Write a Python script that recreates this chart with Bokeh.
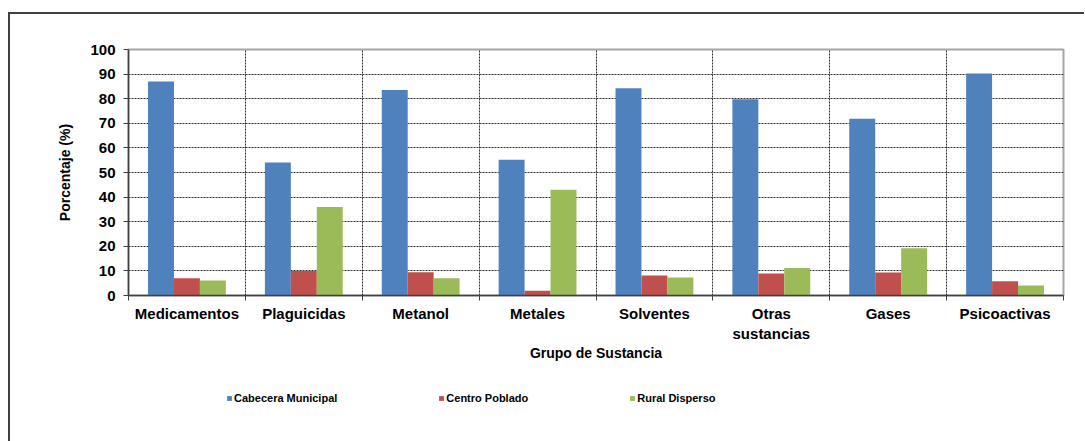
import numpy as np
from bokeh.plotting import figure
from bokeh.layouts import column
from bokeh.models import FixedTicker, Legend, LegendItem, ColumnDataSource
from bokeh.embed import file_html
from bokeh.resources import INLINE

categories = ["Medicamentos", "Plaguicidas", "Metanol", "Metales", "Solventes",
              "Otras sustancias", "Gases", "Psicoactivas"]
tick_labels = ["Medicamentos", "Plaguicidas", "Metanol", "Metales", "Solventes",
               "Otras\nsustancias", "Gases", "Psicoactivas"]
series_names = ["Cabecera Municipal", "Centro Poblado", "Rural Disperso"]
cabecera = [87.0, 54.1, 83.5, 55.2, 84.2, 79.8, 71.8, 90.2]
centro = [7.0, 10.0, 9.5, 1.9, 8.1, 8.9, 9.3, 5.8]
rural = [6.1, 36.0, 7.0, 43.0, 7.3, 11.2, 19.2, 4.1]
y_ticks = [0, 10, 20, 30, 40, 50, 60, 70, 80, 90, 100]

colors = ["#4F81BD", "#C0504D", "#9BBB59"]
offsets = [-0.222, 0.0, 0.222]
bar_w = 0.222
FONT = "Liberation Sans"

p = figure(frame_width=935, frame_height=246, output_backend="svg", toolbar_location=None,
           x_range=(0, len(categories)), y_range=(0, 100),
           min_border_left=118, min_border_top=35, min_border_right=21,
           min_border_bottom=65)
p.outline_line_color = "#A6A6A6"
p.outline_line_width = 2
p.background_fill_color = "white"
p.border_fill_color = "white"

centers = np.arange(len(categories)) + 0.5
sources = []
for vals, col, off in zip([cabecera, centro, rural], colors, offsets):
    src = ColumnDataSource(dict(x=centers + off, top=vals))
    sources.append(src)
    p.vbar(x="x", top="top", width=bar_w, source=src, fill_color=col, line_color=None)

# x axis
xt = FixedTicker(ticks=list(centers), minor_ticks=list(range(len(categories) + 1)))
p.xaxis.ticker = xt
p.xaxis.major_label_overrides = {float(c): lab for c, lab in zip(centers, tick_labels)}
p.xaxis.major_tick_line_color = None
p.xaxis.minor_tick_line_color = "#404040"
p.xaxis.minor_tick_out = 5
p.xaxis.minor_tick_in = 0
p.xaxis.axis_line_color = "#404040"
p.xaxis.axis_line_width = 1.5
p.xaxis.major_label_text_font = FONT
p.xaxis.major_label_text_font_style = "bold"
p.xaxis.major_label_text_font_size = "15px"
p.xaxis.major_label_text_color = "black"
p.xaxis.major_label_standoff = 3
p.xaxis.axis_label = "Grupo de Sustancia"
p.xaxis.axis_label_text_font = FONT
p.xaxis.axis_label_text_font_style = "bold"
p.xaxis.axis_label_text_font_size = "14px"
p.xaxis.axis_label_text_color = "black"
p.xaxis.axis_label_standoff = 0

# y axis
p.yaxis.ticker = FixedTicker(ticks=y_ticks)
p.yaxis.minor_tick_line_color = None
p.yaxis.major_tick_out = 5
p.yaxis.major_tick_in = 0
p.yaxis.major_tick_line_color = "#404040"
p.yaxis.axis_line_color = "#404040"
p.yaxis.axis_line_width = 1.5
p.yaxis.major_label_text_font = FONT
p.yaxis.major_label_text_font_style = "bold"
p.yaxis.major_label_text_font_size = "15px"
p.yaxis.major_label_text_color = "black"
p.yaxis.major_label_standoff = 8
p.yaxis.axis_label = "Porcentaje (%)"
p.yaxis.axis_label_text_font = FONT
p.yaxis.axis_label_text_font_style = "bold"
p.yaxis.axis_label_text_font_size = "14px"
p.yaxis.axis_label_text_color = "black"
p.yaxis.axis_label_standoff = 14

# grids
p.ygrid.ticker = FixedTicker(ticks=y_ticks[1:-1])
p.ygrid.grid_line_color = "#303030"
p.ygrid.grid_line_dash = "2 1"
p.ygrid.grid_line_width = 1
p.xgrid.ticker = FixedTicker(ticks=list(range(1, len(categories))))
p.xgrid.grid_line_color = "#303030"
p.xgrid.grid_line_dash = "2 1"
p.xgrid.grid_line_width = 1

# legend strip (separate small plot; its renderers are hidden, only the legend shows)
leg = figure(width=1074, height=80, output_backend="svg", toolbar_location=None,
             x_axis_type=None, y_axis_type=None, x_range=(0, len(categories)),
             y_range=(0, 100), min_border=0)
leg.outline_line_color = None
leg.grid.visible = False
leg.border_fill_color = "white"
leg_renderers = []
for src, col in zip(sources, colors):
    r = leg.vbar(x="x", top="top", width=bar_w, source=src,
                 fill_color=col, line_color=None)
    r.visible = False
    leg_renderers.append(r)
legend = Legend(items=[LegendItem(label=n, renderers=[r]) for n, r in zip(series_names, leg_renderers)],
                orientation="horizontal", location=(98, 39),
                glyph_width=6, glyph_height=6, label_standoff=2, spacing=101,
                padding=0, margin=0, border_line_color=None,
                background_fill_alpha=0, click_policy="none",
                label_text_font=FONT, label_text_font_style="bold",
                label_text_font_size="11px", label_text_color="black")
leg.add_layout(legend, "center")

layout = column(p, leg, spacing=0)
layout.styles = {"border-left": "2px solid #404040", "border-top": "2px solid #404040",
                 "margin-top": "12px", "margin-left": "8px"}

open("out.html", "w").write(file_html(layout, INLINE))
